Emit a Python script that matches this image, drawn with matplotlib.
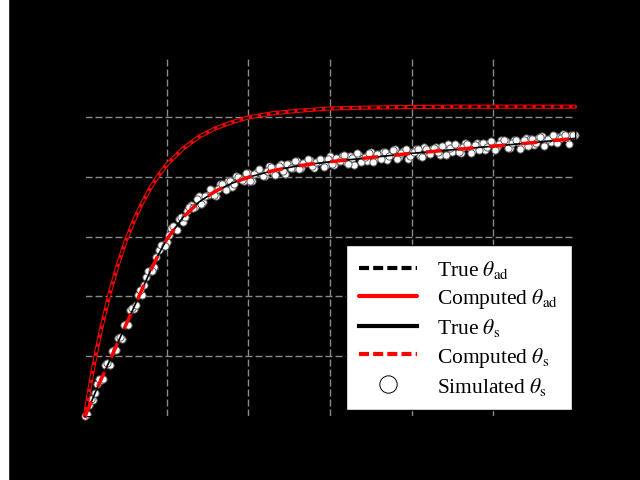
import matplotlib.pyplot as plt
from matplotlib.patches import Rectangle

plt.rcParams['mathtext.fontset'] = 'stix'
plt.rcParams['font.family'] = 'Liberation Serif'

# time grid for the model curves
t = [0, 0.05, 0.1, 0.15, 0.2, 0.3, 0.4, 0.5, 0.6, 0.7, 0.8, 0.9, 1.0,
     1.2, 1.4, 1.6, 1.8, 2.0, 2.3, 2.6, 3.0, 3.5, 4.0, 4.5, 5.0, 5.5, 6.0]

true_ad = [0, 0.41, 0.80, 1.15, 1.47, 2.04, 2.52, 2.93, 3.27, 3.56, 3.81, 4.02, 4.20,
           4.47, 4.67, 4.81, 4.91, 4.99, 5.06, 5.10, 5.14, 5.155, 5.165, 5.17, 5.17, 5.17, 5.17]
comp_ad = [0, 0.41, 0.80, 1.15, 1.47, 2.04, 2.52, 2.93, 3.27, 3.56, 3.81, 4.02, 4.20,
           4.47, 4.67, 4.81, 4.91, 4.99, 5.06, 5.10, 5.14, 5.155, 5.165, 5.17, 5.17, 5.17, 5.17]
true_s = [0, 0.15, 0.31, 0.47, 0.62, 0.92, 1.22, 1.52, 1.82, 2.12, 2.42, 2.70, 2.95,
          3.32, 3.58, 3.76, 3.89, 3.99, 4.10, 4.18, 4.25, 4.32, 4.39, 4.45, 4.51, 4.57, 4.64]
comp_s = [0, 0.15, 0.31, 0.47, 0.62, 0.92, 1.22, 1.52, 1.82, 2.12, 2.42, 2.70, 2.95,
          3.32, 3.58, 3.76, 3.89, 3.99, 4.10, 4.18, 4.25, 4.32, 4.39, 4.45, 4.51, 4.57, 4.64]

# simulated (noisy) samples, two interleaved sets
sim_t_a = [0.00, 0.05, 0.10, 0.15, 0.20, 0.25, 0.30, 0.35, 0.40, 0.45,
           0.50, 0.55, 0.60, 0.65, 0.70, 0.75, 0.80, 0.85, 0.90, 0.95,
           1.00, 1.05, 1.10, 1.15, 1.20, 1.25, 1.30, 1.35, 1.40, 1.45,
           1.50, 1.55, 1.60, 1.65, 1.70, 1.75, 1.80, 1.85, 1.90, 1.95,
           2.00, 2.05, 2.10, 2.15, 2.20, 2.25, 2.30, 2.35, 2.40, 2.45,
           2.50, 2.55, 2.60, 2.65, 2.70, 2.75, 2.80, 2.85, 2.90, 2.95,
           3.00, 3.05, 3.10, 3.15, 3.20, 3.25, 3.30, 3.35, 3.40, 3.45,
           3.50, 3.55, 3.60, 3.65, 3.70, 3.75, 3.80, 3.85, 3.90, 3.95,
           4.00, 4.05, 4.10, 4.15, 4.20, 4.25, 4.30, 4.35, 4.40, 4.45,
           4.50, 4.55, 4.60, 4.65, 4.70, 4.75, 4.80, 4.85, 4.90, 4.95,
           5.00, 5.05, 5.10, 5.15, 5.20, 5.25, 5.30, 5.35, 5.40, 5.45,
           5.50, 5.55, 5.60, 5.65, 5.70, 5.75, 5.80, 5.85, 5.90, 5.95, 6.00]
sim_s_a = [0.00, 0.18, 0.26, 0.54, 0.60, 0.86, 0.86, 1.11, 1.30, 1.29,
           1.54, 1.77, 1.78, 2.02, 2.03, 2.33, 2.43, 2.49, 2.78, 2.86,
           2.90, 3.14, 3.12, 3.29, 3.24, 3.43, 3.53, 3.49, 3.68, 3.57,
           3.69, 3.77, 3.67, 3.87, 3.82, 3.92, 3.82, 4.01, 3.97, 3.93,
           4.06, 3.93, 4.08, 4.06, 4.01, 4.18, 4.07, 4.15, 4.21, 4.05,
           4.21, 4.15, 4.27, 4.14, 4.23, 4.28, 4.14, 4.25, 4.28, 4.20,
           4.35, 4.20, 4.30, 4.35, 4.25, 4.34, 4.20, 4.37, 4.31, 4.26,
           4.41, 4.31, 4.38, 4.42, 4.28, 4.38, 4.46, 4.33, 4.43, 4.30,
           4.41, 4.47, 4.35, 4.50, 4.40, 4.46, 4.50, 4.37, 4.49, 4.54,
           4.42, 4.52, 4.39, 4.56, 4.49, 4.44, 4.56, 4.54, 4.44, 4.57,
           4.54, 4.50, 4.62, 4.59, 4.48, 4.62, 4.58, 4.52, 4.65, 4.63,
           4.53, 4.64, 4.68, 4.61, 4.58, 4.68, 4.66, 4.71, 4.65, 4.70, 4.70]
sim_t_b = [0.025, 0.075, 0.125, 0.175, 0.225, 0.275, 0.325, 0.375, 0.425, 0.475,
           0.525, 0.575, 0.625, 0.675, 0.725, 0.775, 0.825, 0.875, 0.925, 0.975,
           1.025, 1.075, 1.125, 1.175, 1.225, 1.275, 1.325, 1.375, 1.425, 1.475,
           1.525, 1.575, 1.625, 1.675, 1.725, 1.775, 1.825, 1.875, 1.925, 1.975,
           2.025, 2.075, 2.125, 2.175, 2.225, 2.275, 2.325, 2.375, 2.425, 2.475,
           2.525, 2.575, 2.625, 2.675, 2.725, 2.775, 2.825, 2.875, 2.925, 2.975,
           3.025, 3.075, 3.125, 3.175, 3.225, 3.275, 3.325, 3.375, 3.425, 3.475,
           3.525, 3.575, 3.625, 3.675, 3.725, 3.775, 3.825, 3.875, 3.925, 3.975,
           4.025, 4.075, 4.125, 4.175, 4.225, 4.275, 4.325, 4.375, 4.425, 4.475,
           4.525, 4.575, 4.625, 4.675, 4.725, 4.775, 4.825, 4.875, 4.925, 4.975,
           5.025, 5.075, 5.125, 5.175, 5.225, 5.275, 5.325, 5.375, 5.425, 5.475,
           5.525, 5.575, 5.625, 5.675, 5.725, 5.775, 5.825, 5.875, 5.925, 5.975]
sim_s_b = [0.04, 0.29, 0.38, 0.62, 0.62, 0.88, 1.08, 1.10, 1.32, 1.52,
           1.52, 1.80, 1.86, 2.10, 2.19, 2.42, 2.42, 2.66, 2.86, 2.84,
           3.02, 3.17, 3.11, 3.33, 3.32, 3.49, 3.48, 3.63, 3.54, 3.68,
           3.79, 3.69, 3.80, 3.88, 3.77, 3.93, 3.87, 3.99, 3.95, 4.06,
           3.93, 4.05, 4.13, 4.01, 4.10, 4.16, 4.03, 4.17, 4.10, 4.21,
           4.15, 4.26, 4.12, 4.23, 4.30, 4.17, 4.25, 4.30, 4.16, 4.30,
           4.22, 4.32, 4.26, 4.36, 4.21, 4.32, 4.39, 4.25, 4.33, 4.39,
           4.25, 4.38, 4.30, 4.41, 4.34, 4.44, 4.30, 4.40, 4.47, 4.34,
           4.42, 4.47, 4.33, 4.46, 4.38, 4.48, 4.42, 4.52, 4.37, 4.48,
           4.55, 4.41, 4.49, 4.54, 4.40, 4.53, 4.45, 4.56, 4.49, 4.59,
           4.45, 4.55, 4.62, 4.48, 4.56, 4.61, 4.47, 4.61, 4.52, 4.63,
           4.57, 4.66, 4.52, 4.63, 4.69, 4.56, 4.64, 4.69, 4.55, 4.69]

fig = plt.figure(figsize=(6.4, 4.81), dpi=100, facecolor='black')
fig.patches.append(Rectangle((0, 0), 8 / 640, 1, transform=fig.transFigure,
                             color='white', zorder=0))
ax = fig.add_axes([85 / 640, 64 / 481, 490 / 640, 359 / 481])
ax.set_facecolor('black')

ax.plot(sim_t_a + sim_t_b, sim_s_a + sim_s_b, 'o', ms=5.2, mfc='white', mec='#606060',
        mew=0.7, label=r'Simulated $\theta_{\rm s}$', zorder=2, clip_on=False)
ax.plot(t, comp_ad, color='red', lw=3, solid_capstyle='round',
        label=r'Computed $\theta_{\rm ad}$', zorder=3, clip_on=False)
ax.plot(t, true_ad, color='black', lw=1.5, dashes=(2.9, 1.5),
        label=r'True $\theta_{\rm ad}$', zorder=4, clip_on=False)
ax.plot(t, true_s, color='black', lw=1.2,
        label=r'True $\theta_{\rm s}$', zorder=3, clip_on=False)
ax.plot(t, comp_s, color='red', lw=2.5, dashes=(4.6, 4.6),
        label=r'Computed $\theta_{\rm s}$', zorder=4, clip_on=False)

ax.set_xlim(0, 6)
ax.set_ylim(0, 6)
ax.set_xticks([1, 2, 3, 4, 5])
ax.set_yticks([1, 2, 3, 4, 5])
ax.set_xticklabels([])
ax.set_yticklabels([])
ax.tick_params(length=0)
ax.grid(True, color='#8a8a8a', lw=1, dashes=(5, 2.2))
for s in ax.spines.values():
    s.set_color('black')

h, l = ax.get_legend_handles_labels()
order = [2, 1, 3, 4, 0]
leg = ax.legend([h[i] for i in order], [l[i] for i in order],
                loc='lower right', bbox_to_anchor=(0.994, 0.017), borderaxespad=0,
                fontsize=15.5, handlelength=2.7, labelspacing=0.28,
                fancybox=False, framealpha=1, edgecolor='black',
                borderpad=0.62, handletextpad=0.95, markerscale=2.4)
leg.get_frame().set_linewidth(1)
leg.set_zorder(10)
for ln in leg.get_lines():
    ln.set_linewidth(3)
leg.get_lines()[0].set_dashes((2.4, 1.0))
leg.get_lines()[3].set_dashes((2.4, 1.0))
leg.get_lines()[4].set_markeredgecolor('black')

fig.savefig('out.png', dpi=100, facecolor='black')
